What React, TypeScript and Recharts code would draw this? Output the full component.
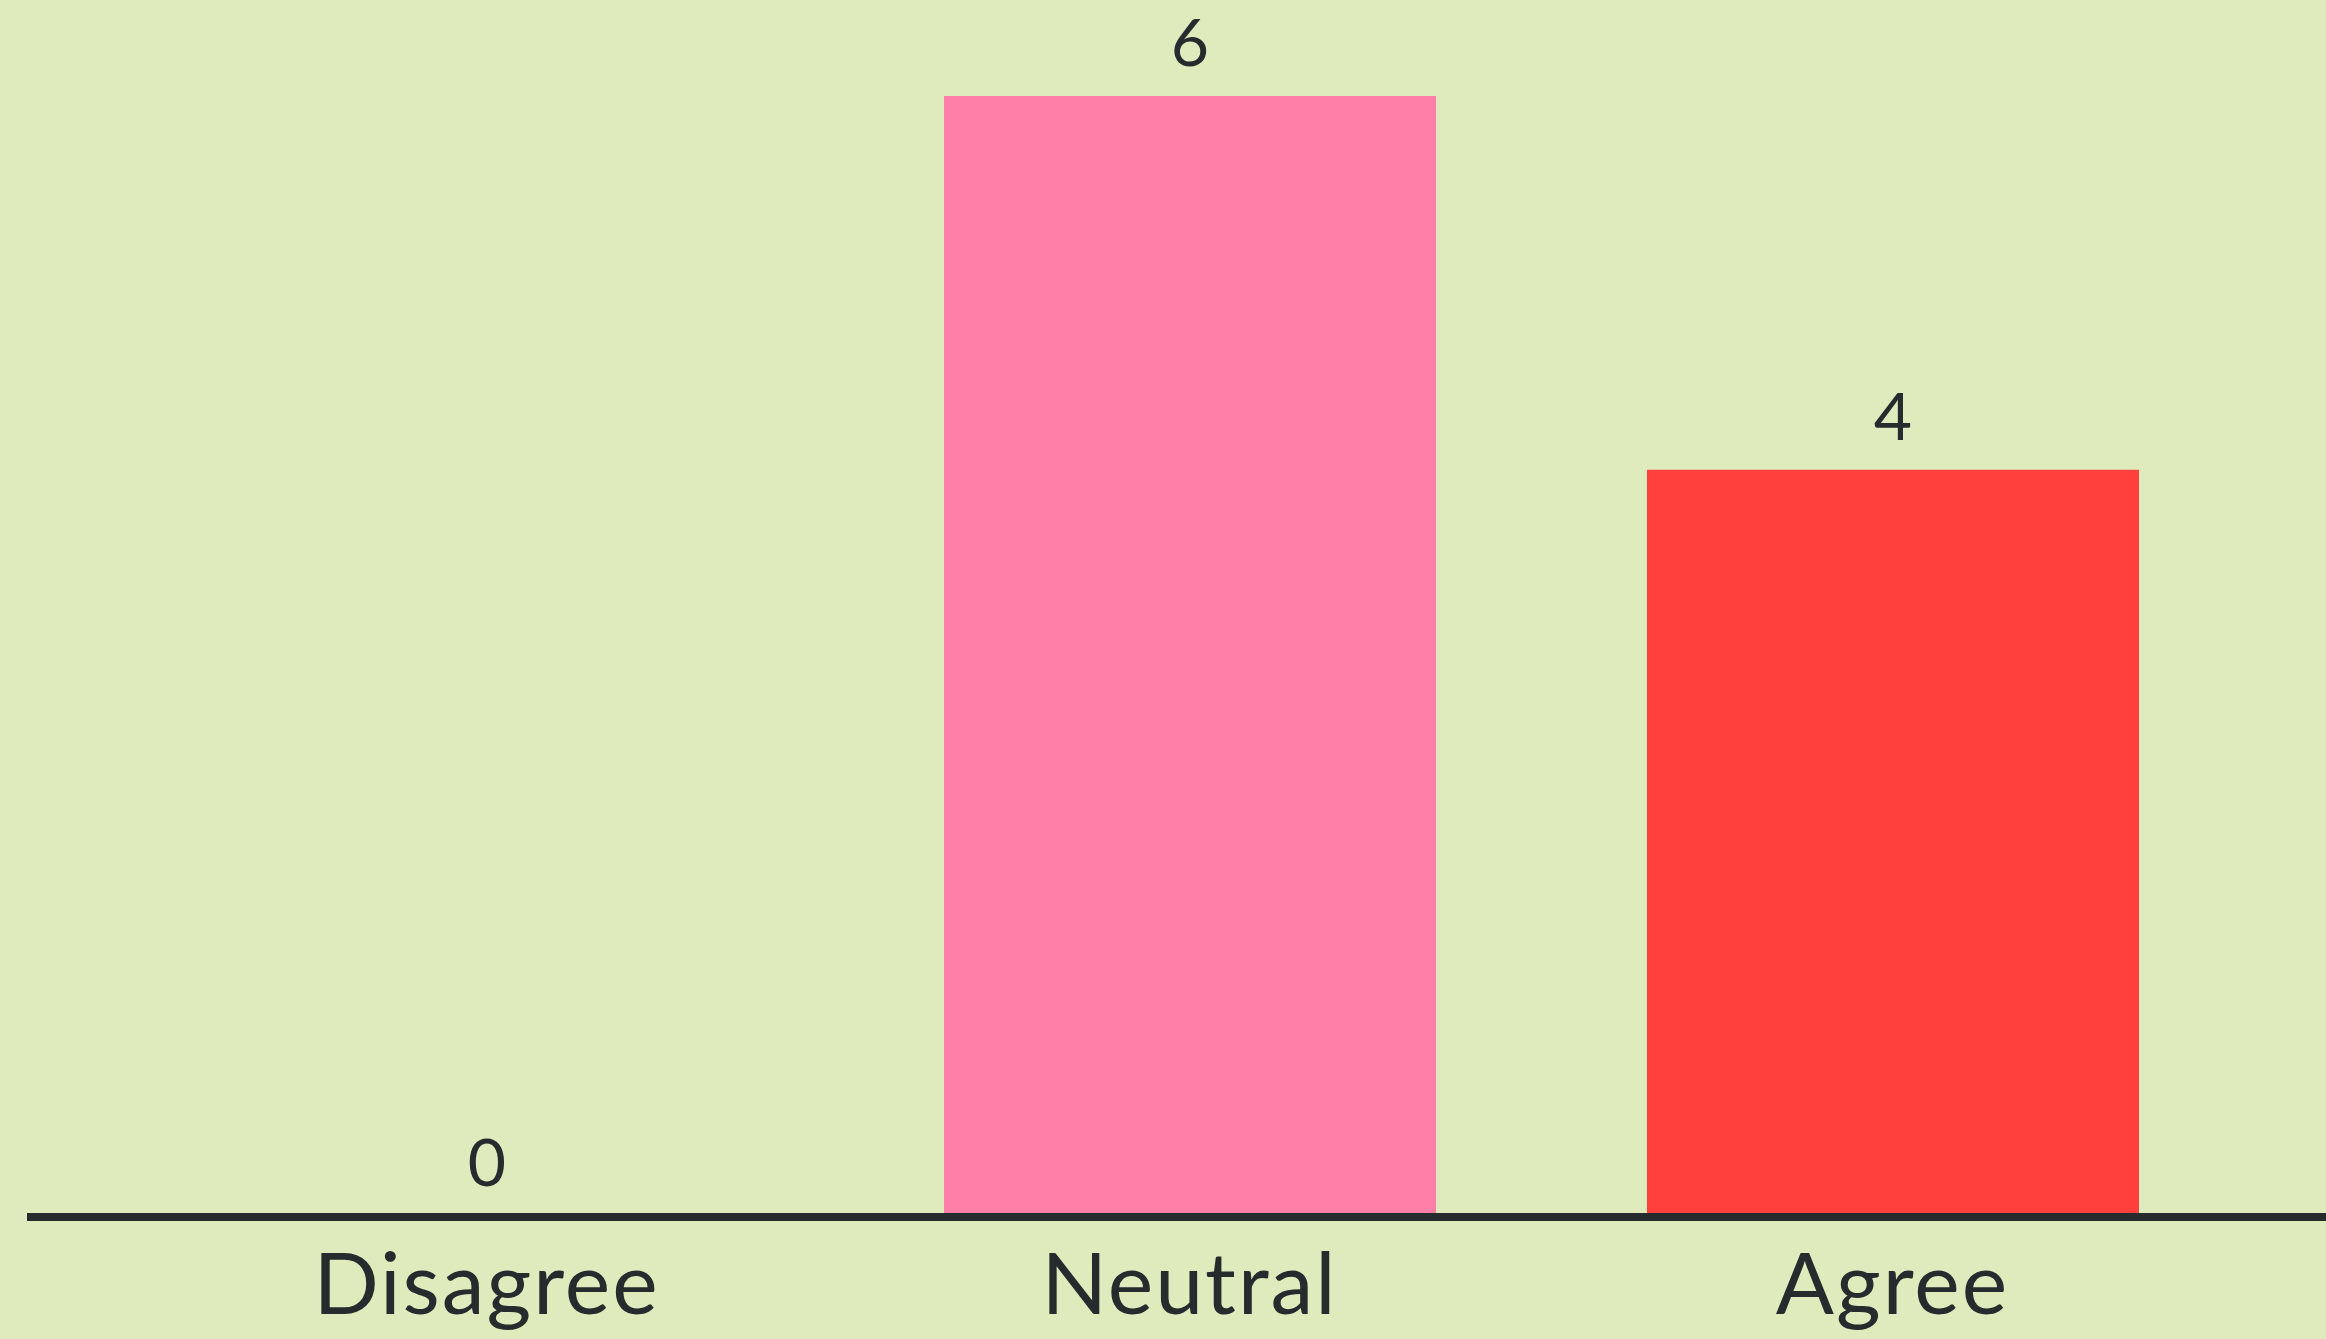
import { Bar, BarChart, Cell, LabelList, XAxis, YAxis } from "recharts";

const categories = ["Disagree", "Neutral", "Agree"];
const counts = [0, 6, 4];
const barColors = ["#7fb3d5", "#ff7fa8", "#ff403c"];

const data = categories.map((name, i) => ({ name, count: counts[i] }));

const FONT = "Lato, 'Open Sans', sans-serif";
const INK = "#262b2e";

export default function App() {
  return (
    <div
      style={{
        position: "absolute",
        top: 0,
        left: 0,
        width: 2326,
        height: 1339,
        background: "#dfebbc",
        overflow: "hidden",
      }}
    >
      <BarChart
        width={2326}
        height={1339}
        data={data}
        margin={{ top: 96, right: 0, left: 27, bottom: 0 }}
      >
        <XAxis
          dataKey="name"
          height={122}
          padding={{ left: 108, right: 82 }}
          axisLine={{ stroke: INK, strokeWidth: 8 }}
          tickLine={false}
          tickSize={0}
          tickMargin={36}
          tick={{ fill: INK, fontSize: 86, fontFamily: FONT, letterSpacing: 2 }}
        />
        <YAxis hide domain={[0, 6]} />
        {/* minPointSize keeps the zero bar (hidden under the axis line) so its label still shows */}
        <Bar dataKey="count" barSize={492} minPointSize={1} isAnimationActive={false}>
          {data.map((d, i) => (
            <Cell key={d.name} fill={barColors[i]} />
          ))}
          <LabelList
            dataKey="count"
            position="top"
            offset={30}
            fill={INK}
            fontSize={66}
            fontFamily={FONT}
          />
        </Bar>
      </BarChart>
    </div>
  );
}
